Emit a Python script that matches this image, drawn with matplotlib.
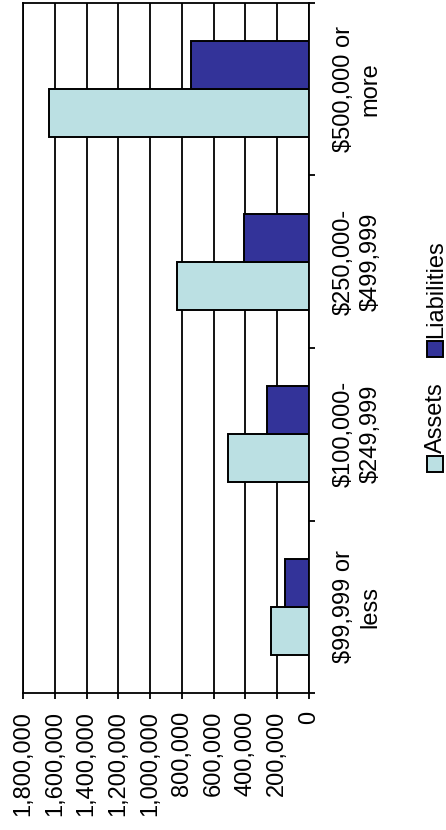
import matplotlib
matplotlib.use("Agg")
import matplotlib.pyplot as plt
from matplotlib.patches import Rectangle
from matplotlib.ticker import FuncFormatter, FixedLocator
import numpy as np

plt.rcParams['font.family'] = ['Liberation Sans', 'DejaVu Sans']

categories = ["$99,999 or\nless", "$100,000-\n$249,999", "$250,000-\n$499,999", "$500,000 or\nmore"]
assets = [237000, 512000, 830000, 1637000]
liabilities = [148000, 265000, 410000, 742000]
value_ticks = [0, 200000, 400000, 600000, 800000, 1000000, 1200000, 1400000, 1600000, 1800000]
series_names = ["Assets", "Liabilities"]

asset_color = "#BBE0E3"
liab_color = "#333399"
FS = 17

W, H = 446, 830
fig = plt.figure(figsize=(W / 100, H / 100), dpi=100)
ax = fig.add_axes([23 / W, 1 - 693 / H, (309 - 23) / W, (693 - 3) / H])

pos = np.arange(len(categories))
bh = 0.277
ax.barh(pos - bh / 2, assets, height=bh, color=asset_color, edgecolor="black", linewidth=1.4, zorder=3)
ax.barh(pos + bh / 2, liabilities, height=bh, color=liab_color, edgecolor="black", linewidth=1.4, zorder=3)

ax.set_xlim(value_ticks[-1], 0)
ax.set_ylim(-0.5, len(categories) - 0.5)

ax.xaxis.set_major_locator(FixedLocator(value_ticks))
ax.xaxis.set_major_formatter(FuncFormatter(lambda v, p: f"{int(v):,}"))
ax.tick_params(axis="x", direction="out", length=4, width=1.3, pad=9, labelsize=FS, labelrotation=90)
ax.grid(axis="x", color="black", linewidth=1.3, zorder=0)

ax.yaxis.tick_right()
ax.set_yticks(pos)
ax.set_yticklabels(categories, rotation=90, va="center", ha="left", multialignment="center", linespacing=1.3)
ax.set_yticks(np.arange(len(categories) + 1) - 0.5, minor=True)
ax.tick_params(axis="y", which="major", length=0, pad=17, labelsize=FS)
ax.tick_params(axis="y", which="minor", direction="out", length=4, width=1.3)

for s in ax.spines.values():
    s.set_linewidth(1.3)

# legend drawn as rotated entries along the right edge
def legend_entry(y_box_top, label, color):
    x0, size = 427, 16
    fig.patches.append(Rectangle((x0 / W, 1 - (y_box_top + size) / H), size / W, size / H,
                                 transform=fig.transFigure, facecolor=color,
                                 edgecolor="black", linewidth=1.4))
    fig.text((x0 + size / 2 + 1) / W, 1 - (y_box_top - 3) / H, label, rotation=90,
             ha="center", va="bottom", fontsize=FS)

legend_entry(456, series_names[0], asset_color)
legend_entry(341, series_names[1], liab_color)

fig.savefig("out.png", dpi=100)
